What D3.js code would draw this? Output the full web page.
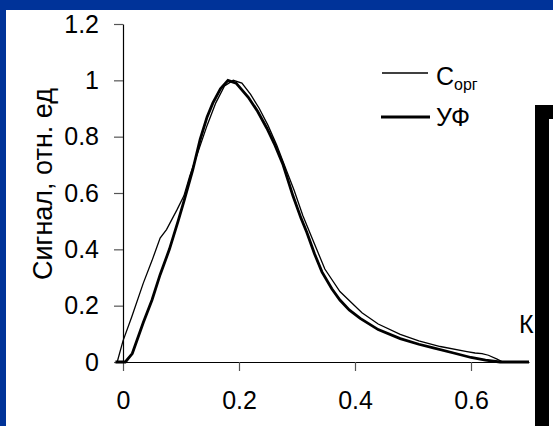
<!DOCTYPE html>
<html>
<head>
<meta charset="utf-8">
<script src="https://cdn.jsdelivr.net/npm/d3@7"></script>
<style>
body { margin: 0; background: #fff; }
text { font-family: "Liberation Sans", Arial, sans-serif; fill: #000; }
</style>
</head>
<body>
<div id="chart"></div>
<script>
// Сорг (thin line)
const xCorg = [-0.01, 0, 0.015, 0.035, 0.05, 0.064, 0.075, 0.093, 0.105, 0.115, 0.13, 0.145, 0.16, 0.175, 0.19, 0.205, 0.22, 0.235, 0.25, 0.265, 0.28, 0.295, 0.31, 0.33, 0.348, 0.374, 0.412, 0.44, 0.478, 0.51, 0.547, 0.593, 0.607, 0.619, 0.63, 0.645, 0.655, 0.7];
const yCorg = [0, 0.075, 0.16, 0.28, 0.36, 0.44, 0.47, 0.54, 0.59, 0.66, 0.75, 0.84, 0.92, 0.98, 1.0, 0.99, 0.95, 0.9, 0.84, 0.77, 0.69, 0.61, 0.52, 0.42, 0.33, 0.25, 0.175, 0.135, 0.098, 0.075, 0.055, 0.037, 0.032, 0.03, 0.024, 0.01, 0, 0];
// УФ (thick line)
const xUF = [-0.013, 0.004, 0.016, 0.035, 0.05, 0.064, 0.08, 0.095, 0.105, 0.12, 0.133, 0.145, 0.155, 0.168, 0.181, 0.195, 0.216, 0.232, 0.248, 0.262, 0.276, 0.293, 0.307, 0.317, 0.33, 0.343, 0.36, 0.374, 0.39, 0.409, 0.44, 0.478, 0.51, 0.535, 0.57, 0.6, 0.625, 0.65, 0.7];
const yUF = [0, 0, 0.03, 0.14, 0.22, 0.31, 0.4, 0.5, 0.57, 0.68, 0.79, 0.87, 0.92, 0.97, 1.0, 0.99, 0.94, 0.89, 0.83, 0.77, 0.7, 0.59, 0.51, 0.46, 0.385, 0.32, 0.26, 0.22, 0.185, 0.155, 0.115, 0.083, 0.063, 0.05, 0.032, 0.016, 0.007, 0, 0];

const xTicks = [0, 0.2, 0.4, 0.6];
const yTicks = [0, 0.2, 0.4, 0.6, 0.8, 1, 1.2];

const W = 553, H = 426;
const svg = d3.select("#chart").append("svg")
  .attr("width", W).attr("height", H);

// slide background
svg.append("rect").attr("width", W).attr("height", H).attr("fill", "#fff");
svg.append("rect").attr("x", 0).attr("y", 0).attr("width", W).attr("height", 10).attr("fill", "#003399");
svg.append("rect").attr("x", 0).attr("y", 0).attr("width", 6).attr("height", H).attr("fill", "#003399");

const x = d3.scaleLinear().domain([0, 0.7]).range([123, 529]);
const y = d3.scaleLinear().domain([0, 1.2]).range([362, 24]);

// axes
const xAxis = svg.append("g")
  .attr("transform", `translate(0, ${y(0)})`)
  .call(d3.axisBottom(x).tickValues(xTicks).tickSize(9).tickPadding(20)
    .tickFormat(d => d === 0 ? "0" : d3.format(".1f")(d)).tickSizeOuter(0));
const yAxis = svg.append("g")
  .attr("transform", `translate(${x(0)}, 0)`)
  .call(d3.axisLeft(y).tickValues(yTicks).tickSize(9).tickPadding(15)
    .tickFormat(d => (d === 0 || d === 1) ? String(d) : d3.format(".1f")(d)).tickSizeOuter(0));
[xAxis, yAxis].forEach(g => {
  g.select(".domain").attr("stroke", "#000").attr("stroke-width", 1.2);
  g.selectAll(".tick line").attr("stroke", "#555").attr("stroke-width", 1.2);
  g.selectAll(".tick text").style("font-size", "25px").attr("font-family", null);
});

svg.append("text")
  .attr("transform", `translate(52, 184) rotate(-90)`)
  .attr("text-anchor", "middle")
  .style("font-size", "27px")
  .text("Сигнал, отн. ед");

// curves
const line = d3.line().x(d => x(d[0])).y(d => y(d[1]));
svg.append("path")
  .datum(d3.zip(xCorg, yCorg))
  .attr("fill", "none").attr("stroke", "#000").attr("stroke-width", 1.3)
  .attr("d", line);
svg.append("path")
  .datum(d3.zip(xUF, yUF))
  .attr("fill", "none").attr("stroke", "#000").attr("stroke-width", 2.8)
  .attr("d", line);

// legend
const legend = svg.append("g");
legend.append("line").attr("x1", 382).attr("x2", 428).attr("y1", 73).attr("y2", 73)
  .attr("stroke", "#000").attr("stroke-width", 1.3);
const t1 = legend.append("text").attr("x", 436).attr("y", 85).style("font-size", "25px");
t1.append("tspan").text("С");
t1.append("tspan").attr("dy", 5).style("font-size", "16px").text("орг");
legend.append("line").attr("x1", 381).attr("x2", 430).attr("y1", 117).attr("y2", 117)
  .attr("stroke", "#000").attr("stroke-width", 3);
legend.append("text").attr("x", 436).attr("y", 126).style("font-size", "25px").text("УФ");

// partially hidden label and black frame on the right
svg.append("text").attr("x", 519).attr("y", 333).style("font-size", "25px").text("К");
svg.append("rect").attr("x", 535).attr("y", 105).attr("width", 18).attr("height", 14).attr("fill", "#000");
svg.append("rect").attr("x", 535).attr("y", 105).attr("width", 14).attr("height", H - 105).attr("fill", "#000");
</script>
</body>
</html>
